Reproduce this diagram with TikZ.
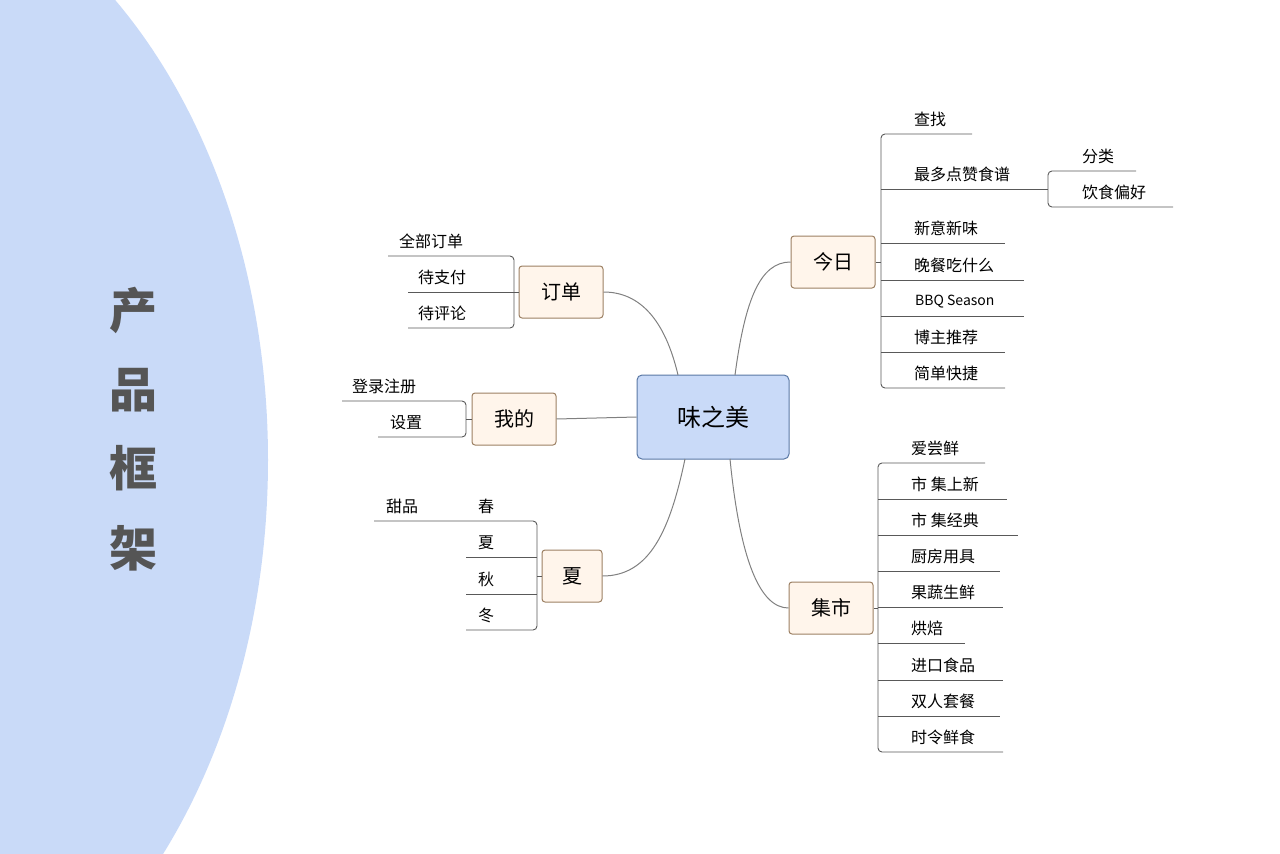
\documentclass[tikz,border=0pt]{standalone}
\usepackage{fontspec}
\setmainfont{Noto Sans CJK SC}
\begin{document}
\begin{tikzpicture}[x=1pt,y=-1pt,
  lf/.style={font=\fontsize{16}{18}\selectfont,anchor=south west,inner sep=1pt,yshift=4pt},
  br/.style={draw=black!65,line width=0.9pt},
  sub/.style={draw=brown!45!gray,fill=orange!8,rounded corners=3pt,line width=1pt,font=\fontsize{20}{22}\selectfont},
  cn/.style={draw=gray,line width=1pt}]
\useasboundingbox (0,0) rectangle (1280,854);
\begin{scope}
\clip (0,0) rectangle (1280,854);
\fill[fill={rgb,255:red,201;green,218;blue,248}] (-159,460) ellipse [x radius=427, y radius=600];
\end{scope}
\foreach \t/\y in {产/310,品/390,框/468,架/548}
  \node[font=\fontsize{48}{48}\selectfont\bfseries,text={rgb,255:red,85;green,85;blue,85}] at (133,\y) {\t};
% center
\node[draw={rgb,255:red,90;green,120;blue,165},fill={rgb,255:red,201;green,218;blue,248},rounded corners=5pt,line width=1pt,minimum width=152pt,minimum height=84pt,font=\fontsize{24}{26}\selectfont] (c) at (713,417) {味之美};
\node[sub,minimum width=84pt,minimum height=52pt] (jr) at (833,262) {今日};
\node[sub,minimum width=84pt,minimum height=52pt] (js) at (831,608) {集市};
\node[sub,minimum width=84pt,minimum height=52pt] (dd) at (561,292) {订单};
\node[sub,minimum width=84pt,minimum height=52pt] (wd) at (514,419) {我的};
\node[sub,minimum width=60pt,minimum height=52pt] (xia) at (572,576) {夏};
\draw[cn] (735,375) .. controls (745,300) and (760,262) .. (jr.west);
\draw[cn] (730,459) .. controls (740,560) and (760,608) .. (js.west);
\draw[cn] (678,375) .. controls (665,320) and (640,292) .. (dd.east);
\draw[cn] (c.west) -- (wd.east);
\draw[cn] (685,459) .. controls (670,530) and (650,576) .. (xia.east);
% 今日
\draw[br] (jr.east) -- (881,262);
\draw[br,rounded corners=4pt] (972,134) -- (881,134) -- (881,388) -- (1005,388);
\foreach \y/\e in {189/1048,243/1005,280/1024,316/1024,352/1005} \draw[br] (881,\y) -- (\e,\y);
\node[lf] at (913,132) {查找};
\node[lf] at (913,187) {最多点赞食谱};
\node[lf] at (913,241) {新意新味};
\node[lf] at (913,278) {晚餐吃什么};
\node[lf,font=\fontsize{14}{16}\selectfont] at (914,313) {BBQ Season};
\node[lf] at (913,350) {博主推荐};
\node[lf] at (913,386) {简单快捷};
\draw[br,rounded corners=4pt] (1136,171) -- (1048,171) -- (1048,207) -- (1173,207);
\node[lf] at (1081,169) {分类};
\node[lf] at (1081,205) {饮食偏好};
% 集市
\draw[br] (js.east) -- (878,608);
\draw[br,rounded corners=4pt] (985,463) -- (878,463) -- (878,752) -- (1003,752);
\foreach \y/\e in {499/1007,535/1018,571/1000,607/1003,643/965,680/1003,716/1000} \draw[br] (878,\y) -- (\e,\y);
\foreach \y/\t in {463/爱尝鲜,499/市 集上新,535/市 集经典,571/厨房用具,607/果蔬生鲜,643/烘焙,680/进口食品,716/双人套餐,752/时令鲜食}
  \node[lf] at (910,\y-2) {\t};
% 订单
\draw[br] (dd.west) -- (514,292);
\draw[br,rounded corners=4pt] (388,256) -- (514,256) -- (514,328) -- (408,328);
\draw[br] (408,292) -- (514,292);
\node[lf] at (398,254) {全部订单};
\node[lf] at (417,290) {待支付};
\node[lf] at (417,326) {待评论};
% 我的
\draw[br] (wd.west) -- (466,419);
\draw[br,rounded corners=4pt] (342,401) -- (466,401) -- (466,437) -- (378,437);
\node[lf] at (351,399) {登录注册};
\node[lf] at (389,435) {设置};
% 夏
\draw[br] (xia.west) -- (537,576);
\draw[br,rounded corners=4pt] (374,521) -- (537,521) -- (537,630) -- (466,630);
\draw[br] (466,557) -- (537,557);
\draw[br] (466,594) -- (537,594);
\node[lf] at (385,519) {甜品};
\node[lf] at (477,519) {春};
\node[lf] at (477,555) {夏};
\node[lf] at (477,592) {秋};
\node[lf] at (477,628) {冬};
\end{tikzpicture}
\end{document}
